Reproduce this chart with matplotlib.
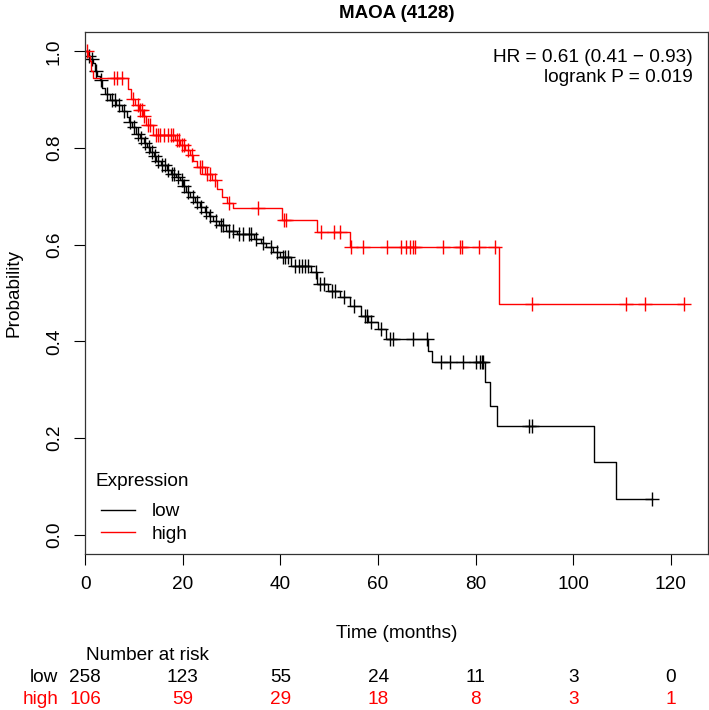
import numpy as np
import matplotlib.pyplot as plt
from matplotlib.transforms import blended_transform_factory

plt.rcParams['font.family'] = ['Liberation Sans', 'DejaVu Sans']

# survival steps: time of drop and survival after the drop
low_t = [0.5, 1.0, 1.6, 2.0, 2.5, 3.0, 3.5, 4.0, 5.0, 6.4, 7.5, 8.5, 9.0, 9.5, 10.5,
         11.2, 12.0, 12.6, 13.3, 14.0, 14.6, 15.5, 16.7, 17.5, 18.5, 19.4, 20.0, 20.7,
         21.4, 22.5, 23.5, 24.5, 25.3, 26.2, 27.5, 28.9, 31.0, 34.5, 36.0, 37.1, 38.5,
         40.0, 42.1, 46.3, 47.5, 49.7, 52.1, 54.3, 56.6, 58.0, 59.9, 61.7, 70.2, 71.1,
         82.0, 83.0, 84.4, 104.3, 108.8]
low_s = [0.99, 0.985, 0.975, 0.96, 0.95, 0.94, 0.925, 0.912, 0.90, 0.888, 0.876, 0.864,
         0.853, 0.843, 0.830, 0.82, 0.81, 0.802, 0.792, 0.783, 0.774, 0.765, 0.754, 0.746,
         0.740, 0.733, 0.722, 0.71, 0.698, 0.688, 0.678, 0.668, 0.659, 0.650, 0.640, 0.629,
         0.623, 0.612, 0.604, 0.595, 0.585, 0.574, 0.555, 0.543, 0.519, 0.505, 0.491,
         0.474, 0.453, 0.44, 0.426, 0.405, 0.381, 0.357, 0.315, 0.267, 0.224, 0.150, 0.074]
low_cens = [0.8, 1.3, 2.2, 3.2, 4.5, 5.5, 6.0, 7.0, 8.0, 9.2, 10.0, 10.8, 11.5, 12.3,
            13.0, 13.6, 14.2, 15.0, 15.8, 16.3, 17.0, 17.8, 18.2, 19.0, 19.8, 20.3, 21.0,
            22.0, 22.8, 23.8, 24.8, 25.6, 26.8, 27.8, 28.3, 29.5, 30.3, 31.5, 32.3, 33.5,
            34.0, 35.0, 36.5, 38.0, 39.2, 40.5, 41.0, 41.5, 43.0, 43.8, 44.4, 45.0, 45.7,
            47.3, 48.0, 49.0, 50.5, 51.2, 53.0, 55.0, 57.3, 57.8, 58.6, 60.5, 62.4, 63.1,
            67.1, 70.0, 72.9, 74.8, 77.4, 80.0, 80.8, 81.2, 81.6, 91.0, 91.6, 116.1]

high_t = [0.5, 0.9, 1.2, 1.5, 8.8, 9.3, 10.2, 11.0, 11.8, 12.5, 13.9, 18.4, 19.5, 20.5,
          21.5, 22.0, 22.8, 24.5, 26.0, 27.0, 28.0, 29.0, 30.2, 40.3, 47.4, 54.2, 84.8]
high_s = [0.99, 0.98, 0.96, 0.944, 0.923, 0.902, 0.89, 0.878, 0.866, 0.847, 0.826, 0.816,
          0.806, 0.795, 0.785, 0.774, 0.760, 0.746, 0.733, 0.716, 0.698, 0.687, 0.675,
          0.651, 0.626, 0.596, 0.478]
high_cens = [0.3, 5.8, 6.6, 7.5, 9.8, 10.8, 11.3, 11.6, 12.0, 12.8, 13.2, 14.5, 15.0, 15.3,
             16.2, 17.0, 17.5, 18.0, 18.8, 19.2, 19.8, 20.2, 21.0, 21.8, 23.5, 24.0, 25.0,
             25.5, 26.5, 29.5, 35.5, 40.7, 41.1, 48.4, 50.9, 52.3, 54.5, 56.9, 61.8, 64.6,
             65.8, 66.5, 67.1, 67.5, 73.4, 76.7, 77.1, 80.6, 83.9, 91.6, 110.7, 114.6, 122.7]

risk_times = [0, 20, 40, 60, 80, 100, 120]
risk_low = [258, 123, 55, 24, 11, 3, 0]
risk_high = [106, 59, 29, 18, 8, 3, 1]

FS = 13.7
W, H = 709, 710
fig = plt.figure(figsize=(W / 100, H / 100), dpi=100)
ax = fig.add_axes([85 / W, 1 - 554 / H, (707.5 - 85) / W, (554 - 32) / H])


def km(ax, t, s, cens, color, label):
    end = max(cens[-1], t[-1])
    xs = np.r_[0, t, end]
    ys = np.r_[1.0, s, s[-1]]
    ax.step(xs, ys, where='post', color=color, lw=1.0, label=label)
    idx = np.searchsorted(t, cens, side='right')
    cy = np.r_[1.0, s][idx]
    ax.plot(cens, cy, ls='none', marker='+', ms=9.5, mew=1.0, color=color)


km(ax, low_t, low_s, low_cens, 'black', 'low')
km(ax, high_t, high_s, high_cens, 'red', 'high')

ax.set_xlim(-0.05, 127.5)
ax.set_ylim(-0.04, 1.04)
ax.set_xticks(risk_times)
ax.set_yticks([0, 0.2, 0.4, 0.6, 0.8, 1.0])
ax.set_yticklabels(['0.0', '0.2', '0.4', '0.6', '0.8', '1.0'], rotation=90, va='center')
ax.tick_params(direction='out', length=8, width=0.8, labelsize=FS, pad=8)
for sp in ax.spines.values():
    sp.set_linewidth(0.9)
    sp.set_color('#333333')

fig.text(14 / W, 1 - 293 / H, 'Probability', rotation=90, ha='center', va='center', fontsize=FS)
fig.text(396.5 / W, 1 - 633 / H, 'Time (months)', ha='center', va='center', fontsize=FS)
fig.text(396.5 / W, 1 - 13 / H, 'MAOA (4128)', ha='center', va='center', fontsize=13.5,
         fontweight='bold')

fig.text(693 / W, 1 - 57 / H, 'HR = 0.61 (0.41 \u2212 0.93)', ha='right', va='center', fontsize=FS)
fig.text(693 / W, 1 - 78 / H, 'logrank P = 0.019', ha='right', va='center', fontsize=FS)

# legend
fig.text(95 / W, 1 - 482 / H, 'Expression', ha='left', va='center', fontsize=FS)
leg = ax.legend(loc='lower left', bbox_to_anchor=(0.025, 0.022),
                frameon=False, handlelength=1.8, handletextpad=0.9, fontsize=FS,
                borderaxespad=0, borderpad=0, labelspacing=0.25)

tr = blended_transform_factory(ax.transData, fig.transFigure)
fig.text(86 / W, 1 - 655 / H, 'Number at risk', ha='left', va='center', fontsize=FS)
fig.text(58 / W, 1 - 678 / H, 'low', ha='right', va='center', fontsize=FS)
fig.text(58 / W, 1 - 699 / H, 'high', ha='right', va='center', fontsize=FS, color='red')
for t, a, b in zip(risk_times, risk_low, risk_high):
    ax.text(t, 1 - 678 / H, str(a), transform=tr, ha='center', va='center', fontsize=FS)
    ax.text(t, 1 - 699 / H, str(b), transform=tr, ha='center', va='center', fontsize=FS,
            color='red')

fig.savefig('out.png', dpi=100)
